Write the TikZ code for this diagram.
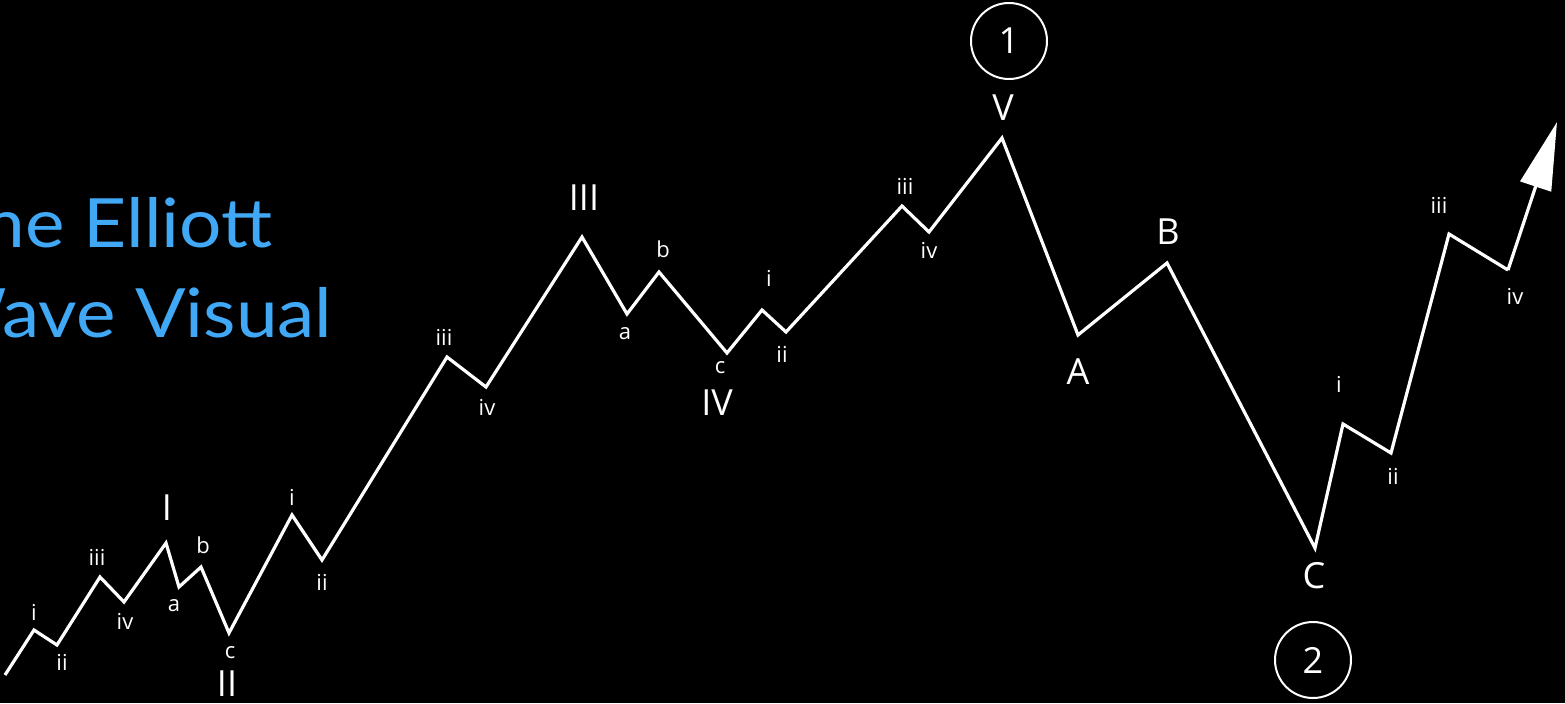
\documentclass[tikz,border=0pt]{standalone}
\usepackage{fontspec}
\setmainfont{Open Sans}
\newfontfamily\titlefont[FakeStretch=1.1]{Lato}
\usetikzlibrary{arrows.meta}

\definecolor{titleblue}{RGB}{64,168,245}

\begin{document}
\begin{tikzpicture}[x=0.5pt,y=-0.5pt,
    wave/.style={white,line width=1.6pt,line join=miter},
    minor/.style={white,inner sep=0pt,font=\fontsize{11}{11}\selectfont},
    major/.style={white,inner sep=0pt,font=\fontsize{18}{18}\selectfont},
    cycle/.style={white,draw,circle,line width=1pt,minimum size=38pt,inner sep=0pt,font=\fontsize{18}{18}\selectfont}]

  \fill[black] (0,0) rectangle (1565,703);
  \clip (0,0) rectangle (1565,703);

  % title, cut at the left edge
  \node[anchor=base east,titleblue,inner sep=0pt,font=\titlefont\fontsize{34}{34}\selectfont] (title1) at (273,247) {The Elliott};
  \node[anchor=base east,titleblue,inner sep=0pt,font=\titlefont\fontsize{34}{34}\selectfont] (title2) at (333,337) {Wave Visual};

  % turning points of the wave
  \coordinate (w0) at (5,675);
  \coordinate (w1) at (34,630);
  \coordinate (w2) at (57,645);
  \coordinate (w3) at (100,577);
  \coordinate (w4) at (124,602);
  \coordinate (w5) at (166,543);
  \coordinate (w6) at (179,587);
  \coordinate (w7) at (201,567);
  \coordinate (w8) at (229,633);
  \coordinate (w9) at (292,515);
  \coordinate (w10) at (322,560);
  \coordinate (w11) at (447,357);
  \coordinate (w12) at (486,387);
  \coordinate (w13) at (582,237);
  \coordinate (w14) at (627,314);
  \coordinate (w15) at (659,272);
  \coordinate (w16) at (727,353);
  \coordinate (w17) at (762,310);
  \coordinate (w18) at (786,332);
  \coordinate (w19) at (902,206);
  \coordinate (w20) at (929,232);
  \coordinate (w21) at (1002,138);
  \coordinate (w22) at (1078,335);
  \coordinate (w23) at (1167,263);
  \coordinate (w24) at (1315,548);
  \coordinate (w25) at (1343,424);
  \coordinate (w26) at (1391,453);
  \coordinate (w27) at (1449,234);
  \coordinate (w28) at (1508,270);
  \coordinate (tip) at (1557,122);

  \draw[wave] (w0) \foreach \k in {1,...,28} { -- (w\k) };
  \draw[wave,-{Triangle[length=34pt,width=16pt]}] (w28) -- (tip);

  % small degree labels
  \foreach \px/\py/\t [count=\k] in {34/612/i,62/662/ii,97/557/iii,125/621/iv,174/606/a,203/545/b,230/653/c,
      292/497/i,322/582/ii,444/337/iii,487/407/iv,625/334/a,663/249/b,720/368/c,769/278/i,782/354/ii,
      905/186/iii,929/250/iv,1339/384/i,1393/476/ii,1439/205/iii,1515/296/iv} {
    \node[minor] (minor\k) at (\px,\py) {\t};
  }

  % large degree labels
  \foreach \px/\py/\t [count=\k] in {167/508/I,227/684/II,584/198/III,717/403/IV,1003/108/V,
      1078/372/A,1168/232/B,1314/576/C} {
    \node[major] (major\k) at (\px,\py) {\t};
  }

  \node[cycle] (cyc1) at (1009,41) {1};
  \node[cycle] (cyc2) at (1313,660) {2};
\end{tikzpicture}
\end{document}
